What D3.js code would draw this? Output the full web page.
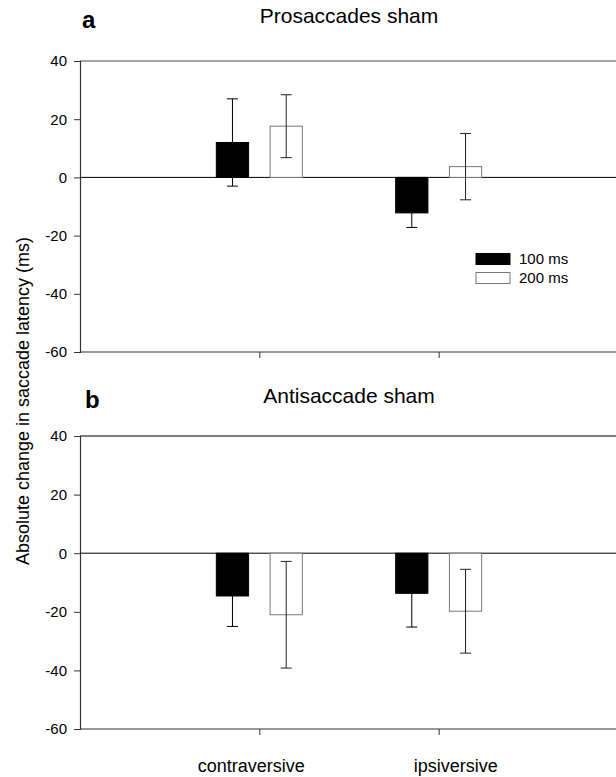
<!DOCTYPE html>
<html>
<head>
<meta charset="utf-8">
<script src="https://cdn.jsdelivr.net/npm/d3@7/dist/d3.min.js"></script>
<style>
  body { margin: 0; background: #fff; }
  svg { display: block; font-family: "Liberation Sans", Arial, sans-serif; }
</style>
</head>
<body>
<div id="chart"></div>
<script>
// data
var categories = ["contraversive", "ipsiversive"];
var seriesNames = ["100 ms", "200 ms"];
var yTicks = [-60, -40, -20, 0, 20, 40];

var proMean100 = [12.0, -12.2];
var proErr100 = [15.0, 5.0];
var proMean200 = [17.6, 3.7];
var proErr200 = [10.8, 11.4];

var antiMean100 = [-14.6, -13.7];
var antiErr100 = [10.4, 11.5];
var antiMean200 = [-21.0, -19.8];
var antiErr200 = [18.2, 14.3];

var width = 616, height = 777;
var left = 80, right = 618;

var svg = d3.select("#chart").append("svg")
    .attr("width", width)
    .attr("height", height);

// x scales: category centres + offset for each series
var x = d3.scalePoint()
    .domain(categories)
    .range([left, right])
    .padding(1);

var xs = d3.scaleBand()
    .domain(seriesNames)
    .range([-43, 43])
    .paddingInner(0.4);

var fills = { "100 ms": "#000", "200 ms": "#fff" };
var strokes = { "100 ms": "#000", "200 ms": "#777" };
var errColors = { "100 ms": "#000", "200 ms": "#222" };

function rows(m100, e100, m200, e200) {
    var out = [];
    categories.forEach(function(c, i) {
        out.push({ cat: c, s: "100 ms", mean: m100[i], err: e100[i] });
        out.push({ cat: c, s: "200 ms", mean: m200[i], err: e200[i] });
    });
    return out;
}

function panel(opts) {
    var y = d3.scaleLinear().domain([-60, 40]).range([opts.bottom, opts.top]);
    var g = svg.append("g");

    // top frame line
    g.append("line")
        .attr("x1", left).attr("x2", right)
        .attr("y1", opts.top).attr("y2", opts.top)
        .attr("stroke", opts.topColor)
        .attr("stroke-width", 1.5);

    // y axis
    var ya = g.append("g")
        .attr("transform", "translate(" + left + ",0)")
        .call(d3.axisLeft(y).tickValues(yTicks).tickSize(6).tickPadding(7)
            .tickFormat(function(d) { return String(d); }));
    ya.select(".domain").attr("stroke", "#333").attr("stroke-width", 1.2);
    ya.selectAll(".tick line").attr("stroke", "#333");
    ya.selectAll(".tick text")
        .attr("fill", "#000")
        .style("font-size", "15px")
        .style("font-family", "Liberation Sans, Arial, sans-serif");

    // x axis
    var xa = g.append("g")
        .attr("transform", "translate(0," + opts.bottom + ")")
        .call(d3.axisBottom(x).tickSize(6).tickSizeOuter(0).tickFormat(""));
    xa.select(".domain").attr("stroke", "#333").attr("stroke-width", 1.2)
        .attr("d", "M" + left + ",0H" + right);
    xa.selectAll(".tick line").attr("stroke", "#333");

    var data = rows(opts.m100, opts.e100, opts.m200, opts.e200);

    // zero line
    g.append("line")
        .attr("x1", left).attr("x2", right)
        .attr("y1", y(0)).attr("y2", y(0))
        .attr("stroke", "#000");

    // bars
    g.selectAll(".bar")
        .data(data)
        .enter().append("rect")
        .attr("class", "bar")
        .attr("x", function(d) { return x(d.cat) + xs(d.s); })
        .attr("width", xs.bandwidth())
        .attr("y", function(d) { return y(Math.max(0, d.mean)); })
        .attr("height", function(d) { return Math.abs(y(d.mean) - y(0)); })
        .attr("fill", function(d) { return fills[d.s]; })
        .attr("stroke", function(d) { return strokes[d.s]; })
        .attr("stroke-width", 1);

    // error bars
    var eb = g.selectAll(".err")
        .data(data)
        .enter().append("g")
        .attr("class", "err")
        .attr("stroke", function(d) { return errColors[d.s]; })
        .attr("stroke-width", 1);
    function cx(d) { return x(d.cat) + xs(d.s) + xs.bandwidth() / 2; }
    eb.append("line")
        .attr("x1", cx).attr("x2", cx)
        .attr("y1", function(d) { return y(d.mean + d.err); })
        .attr("y2", function(d) { return y(d.mean - d.err); });
    [1, -1].forEach(function(sgn) {
        eb.append("line")
            .attr("x1", function(d) { return cx(d) - 5.5; })
            .attr("x2", function(d) { return cx(d) + 5.5; })
            .attr("y1", function(d) { return y(d.mean + sgn * d.err); })
            .attr("y2", function(d) { return y(d.mean + sgn * d.err); });
    });

    // panel letter and title
    g.append("text")
        .attr("x", opts.letterX).attr("y", opts.titleY + 5)
        .style("font-size", "24px").style("font-weight", "bold")
        .text(opts.letter);
    g.append("text")
        .attr("x", (left + right) / 2).attr("y", opts.titleY)
        .attr("text-anchor", "middle")
        .style("font-size", "21px")
        .text(opts.title);

    return y;
}

var yA = panel({
    top: 61, bottom: 352, topColor: "#888",
    m100: proMean100, e100: proErr100, m200: proMean200, e200: proErr200,
    letter: "a", letterX: 82, titleY: 23, title: "Prosaccades sham"
});

var yB = panel({
    top: 436, bottom: 729, topColor: "#555",
    m100: antiMean100, e100: antiErr100, m200: antiMean200, e200: antiErr200,
    letter: "b", letterX: 85, titleY: 403, title: "Antisaccade sham"
});

// legend (panel a)
var legend = svg.append("g").attr("transform", "translate(476,253.5)");
legend.selectAll("rect")
    .data(seriesNames)
    .enter().append("rect")
    .attr("x", 0)
    .attr("y", function(d, i) { return i * 19; })
    .attr("width", 34)
    .attr("height", 11)
    .attr("fill", function(d) { return fills[d]; })
    .attr("stroke", function(d) { return strokes[d]; });
legend.selectAll("text")
    .data(seriesNames)
    .enter().append("text")
    .attr("x", 43)
    .attr("y", function(d, i) { return i * 19 + 10.5; })
    .style("font-size", "15px")
    .text(function(d) { return d; });

// category labels under panel b
var labelShift = [-8, 17];
svg.selectAll(".catlabel")
    .data(categories)
    .enter().append("text")
    .attr("class", "catlabel")
    .attr("x", function(d, i) { return x(d) + labelShift[i]; })
    .attr("y", 771.5)
    .attr("text-anchor", "middle")
    .style("font-size", "18px")
    .text(function(d) { return d; });

// y axis title
svg.append("text")
    .attr("transform", "translate(29,401) rotate(-90)")
    .attr("text-anchor", "middle")
    .style("font-size", "18px")
    .text("Absolute change in saccade latency (ms)");
</script>
</body>
</html>
